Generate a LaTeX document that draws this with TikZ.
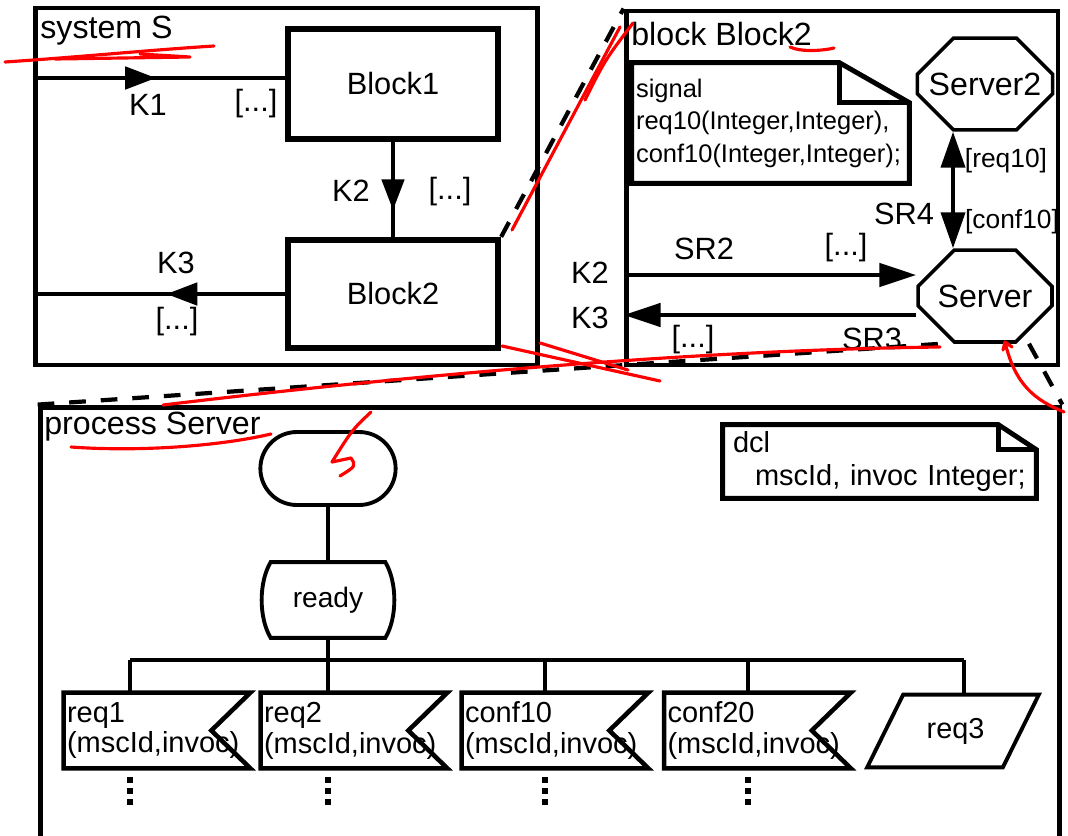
\documentclass[tikz,border=0pt]{standalone}
\usepackage{fontspec}
\setmainfont{Liberation Sans}
\usetikzlibrary{positioning, shapes.misc, arrows.meta, decorations.markings, calc}

\newcommand{\ftitle}{\fontsize{18.3}{22}\selectfont}
\newcommand{\fbig}{\fontsize{17.5}{21}\selectfont}
\newcommand{\fmid}{\fontsize{16.5}{17.6}\selectfont}
\newcommand{\fsml}{\fontsize{14.5}{18.5}\selectfont}
\newcommand{\fbrk}{\fontsize{15}{18}\selectfont}

\begin{document}
\begin{tikzpicture}[x=0.02cm, y=-0.02cm,
      fr/.style={draw, line width=2.8pt, inner sep=0pt},
      blockbox/.style={draw, line width=3.6pt, minimum width=4.2cm, minimum height=2.16cm,
        font=\fbig},
      octa/.style={chamfered rectangle, chamfered rectangle xsep=0.46cm,
        chamfered rectangle ysep=0.5cm, draw, line width=2pt, minimum width=2.68cm,
        minimum height=1.84cm, inner sep=0pt, font=\ftitle},
      notebox/.style={align=left, inner ysep=0pt, font=\fsml},
      notebd/.style={line width=2.8pt, line join=miter},
      sigbox/.style={minimum width=3.72cm, minimum height=1.5cm, text width=3.6cm,
        inner xsep=0.06cm, inner ysep=0pt, align=left, font=\fmid},
      sigline/.style={line width=2.6pt, line join=miter},
      symline/.style={line width=2.2pt},
      conn/.style={line width=2.7pt},
      tree/.style={line width=2.4pt},
      dots/.style={line width=3pt, dash pattern=on 3pt off 3.3pt},
      midarr/.style={postaction={decorate}, decoration={markings,
        mark=at position #1 with {\arrow{Triangle[length=0.62cm, width=0.44cm]}}}},
      sigtip/.style={-{Triangle[length=0.74cm, width=0.46cm]}},
      lab/.style={inner sep=0pt, font=\fbig},
      brk/.style={inner sep=0pt, font=\fbrk},
      zoomline/.style={line width=2.4pt, dash pattern=on 9.5pt off 8.5pt},
      redpen/.style={draw=red, line width=1.8pt, line cap=round, line join=round}
    ]
    \useasboundingbox (0,0) rectangle (1068,835);
    \clip (0,0) rectangle (1068,835);

    % system S
    \node[fr, minimum width=10.06cm, minimum height=7.14cm] (sysS) at (286.5,186.5) {};
    \node[lab, font=\ftitle, anchor=west] (tSys) at (40,31) {system S};
    \node[blockbox, minimum height=2.2cm] (Block1) at (393,84) {Block1};
    \node[blockbox] (Block2) at (393,294) {Block2};
    \coordinate (k1e) at ([yshift=0.12cm]Block1.west);
    \draw[conn, midarr=0.49] (sysS.west |- k1e) -- (k1e);
    \draw[conn, midarr=0.72] (Block1.south) -- (Block2.north);
    \draw[conn, midarr=0.47] (Block2.west) -- (sysS.west |- Block2.west);
    \node[lab] (lK1) at (148,105) {K1};
    \node[lab] (lK1s) at (256,104) {[...]};
    \node[lab] (lK2) at (351,191) {K2};
    \node[lab] (lK2s) at (450,192) {[...]};
    \node[lab] (lK3) at (176,263) {K3};
    \node[lab] (lK3s) at (177,322) {[...]};

    % block Block2
    \node[fr, minimum width=8.64cm, minimum height=7.08cm] (blk) at (842,188) {};
    \node[lab, font=\ftitle, anchor=west] (tBlk) at (631,34) {block Block2};
    \node[notebox, minimum width=5.54cm, minimum height=2.4cm, text width=5.38cm,
      inner xsep=0.08cm] (sigNote) at (770.5,123)
      {signal\\req10(Integer,Integer),\\conf10(Integer,Integer);};
    \draw[notebd] (sigNote.north west) -- ([xshift=-1.4cm]sigNote.north east)
      -- ([yshift=-0.8cm]sigNote.north east) -- (sigNote.south east)
      -- (sigNote.south west) -- cycle;
    \draw[notebd] ([xshift=-1.4cm]sigNote.north east) |- ([yshift=-0.8cm]sigNote.north east);
    \node[octa] (Server2) at (985,84) {Server2};
    \node[octa] (Server) at (985,296) {Server};
    \draw[conn, line width=2.3pt, {Triangle[length=0.72cm, width=0.48cm]}-{Triangle[length=0.72cm, width=0.48cm]}]
      ([xshift=-0.64cm]Server2.south) -- ([xshift=-0.64cm]Server.north);
    \coordinate (sr2e) at ([yshift=0.42cm]Server.west);
    \coordinate (sr3s) at ([yshift=-0.38cm]Server.west);
    \draw[conn, sigtip] (blk.west |- sr2e) -- (sr2e);
    \draw[conn, sigtip] (sr3s) -- (blk.west |- sr3s);
    \node[brk] (lReq) at (1006,161) {[req10]};
    \node[brk] (lConf) at (1012,222) {[conf10]};
    \node[lab] (lSR4) at (904,214) {SR4};
    \node[lab] (lSR2) at (704,249) {SR2};
    \node[lab] (lSR2s) at (846,248) {[...]};
    \node[lab] (lK2b) at (590,273) {K2};
    \node[lab] (lK3b) at (590,318) {K3};
    \node[lab] (lSR3s) at (693,340) {[...]};
    \node[lab] (lSR3) at (872,339) {SR3};

    % process Server
    \node[fr, minimum width=20.4cm, minimum height=11.86cm] (proc) at (550,703.5) {};
    \node[lab, font=\ftitle, anchor=west] (tProc) at (44,427) {process Server};
    \node[notebox, minimum width=6.26cm, minimum height=1.46cm, text width=5.86cm,
      inner xsep=0.2cm, font={\fontsize{16.5}{18.7}\selectfont}] (dclNote) at (879.5,461.5)
      {dcl\\\hspace*{0.44cm}mscId, invoc Integer;};
    \draw[notebd] (dclNote.north west) -- ([xshift=-0.76cm]dclNote.north east)
      -- ([yshift=-0.5cm]dclNote.north east) -- (dclNote.south east)
      -- (dclNote.south west) -- cycle;
    \draw[notebd] ([xshift=-0.76cm]dclNote.north east) |- ([yshift=-0.5cm]dclNote.north east);
    \node[rounded rectangle, draw, symline, minimum width=2.94cm, minimum height=1.46cm]
      (start) at (328,468.5) {};
    \node[inner sep=0pt, minimum width=2.28cm, minimum height=1.5cm,
      font={\fontsize{16}{18}\selectfont}] (ready) at (328,600) {ready};
    \draw[symline] (ready.north west) -- (ready.north east)
      .. controls ([xshift=0.24cm, yshift=-0.4cm]ready.north east)
      and ([xshift=0.24cm, yshift=0.4cm]ready.south east) .. (ready.south east)
      -- (ready.south west)
      .. controls ([xshift=-0.24cm, yshift=0.4cm]ready.south west)
      and ([xshift=-0.24cm, yshift=-0.4cm]ready.north west) .. (ready.north west) -- cycle;
    \draw[tree] (start.south) -- (ready.north);
    \coordinate (bar) at (328,660);
    \coordinate (brL) at (130,660);
    \coordinate (brR) at (964,660);
    \draw[tree] (ready.south) -- (bar);
    \draw[tree] (brL) -- (brR);
    \foreach \nm/\cx/\sx in {req1/157/130, req2/354/328, conf10/555/545, conf20/757.5/748} {
      \coordinate (st\nm) at (\sx,660);
      \node[sigbox] (\nm) at (\cx,730.5) {\nm\\(mscId,invoc)};
      \draw[sigline] (\nm.north west) -- (\nm.north east) -- ([xshift=-0.78cm]\nm.east)
        -- (\nm.south east) -- (\nm.south west) -- cycle;
      \draw[tree] (st\nm) -- (st\nm |- \nm.north);
      \draw[dots] (st\nm |- \nm.south) ++(0,9) -- ++(0,33);
    }
    \node[inner sep=0pt, minimum width=2.7cm, minimum height=1.44cm,
      font={\fontsize{16.4}{18}\selectfont}] (req3) at (953,731) {\hspace*{0.1cm}req3};
    \draw[symline, line join=miter] ([xshift=0.36cm]req3.north west) -- ([xshift=0.36cm]req3.north east)
      -- ([xshift=-0.36cm]req3.south east) -- ([xshift=-0.36cm]req3.south west) -- cycle;
    \draw[tree] (brR) -- (brR |- req3.north);

    % zoom lines
    \draw[zoomline] (Block2.north east) -- (blk.north west);
    \draw[zoomline] (proc.north west) -- ([xshift=-0.88cm]Server.south);
    \draw[zoomline] ([xshift=0.88cm]Server.south) -- (proc.north east);

    % red marks
    \draw[redpen] (5,62) .. controls (80,57) and (150,50) .. (214,46);
    \draw[redpen] (55,59) -- (190,57) -- (140,54);
    \draw[redpen] (790,47) .. controls (800,52) and (822,51) .. (834,48);
    \draw[redpen] (620,27) -- (512,230);
    \draw[redpen] (633,23) .. controls (605,60) .. (585,100);
    \draw[redpen] (163,405) .. controls (420,374) and (700,350) .. (940,347);
    \draw[redpen] (502,346) -- (660,381);
    \draw[redpen] (540,343) -- (628,370);
    \draw[redpen] (71,447) .. controls (140,452) and (220,446) .. (271,434);
    \draw[redpen] (371,412) .. controls (352,430) .. (332,462) -- (351,458)
      .. controls (356,466) .. (340,476);
    \draw[redpen] (1003,350) -- (1005,342) -- (1012,347);
    \draw[redpen] (1005,342) .. controls (1015,385) and (1035,400) .. (1064,412);
  \end{tikzpicture}
\end{document}
